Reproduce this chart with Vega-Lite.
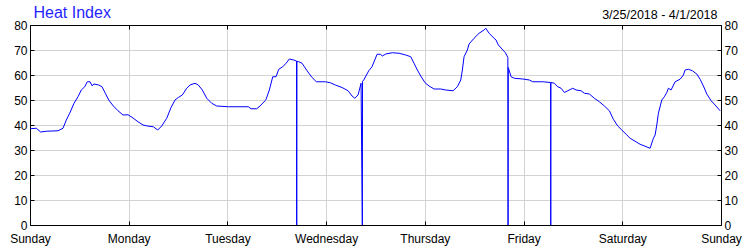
{
  "$schema": "https://vega.github.io/schema/vega-lite/v6.json",
  "width": 691,
  "height": 200,
  "autosize": "none",
  "padding": {"left": 30, "top": 25, "right": 29, "bottom": 25},
  "config": {
    "view": {"stroke": "black", "strokeWidth": 1},
    "font": "Liberation Sans",
    "axis": {
      "labelFont": "Liberation Sans",
      "labelFontSize": 12,
      "labelColor": "black",
      "titleFont": "Liberation Sans",
      "gridColor": "#d3d3d3",
      "gridOpacity": 1,
      "domainColor": "black",
      "tickColor": "black",
      "tickSize": -4
    }
  },
  "data": {
    "values": [
      {"hour": 0.0, "heat_index": 38.5},
      {"hour": 1.53, "heat_index": 38.7},
      {"hour": 2.6, "heat_index": 37.2},
      {"hour": 3.96, "heat_index": 37.5},
      {"hour": 6.81, "heat_index": 37.7},
      {"hour": 8.02, "heat_index": 38.7},
      {"hour": 8.83, "heat_index": 42},
      {"hour": 9.65, "heat_index": 44.7},
      {"hour": 10.7, "heat_index": 48.7},
      {"hour": 11.67, "heat_index": 51.3},
      {"hour": 12.47, "heat_index": 54},
      {"hour": 13.3, "heat_index": 55.3},
      {"hour": 13.93, "heat_index": 57.3},
      {"hour": 14.59, "heat_index": 57.3},
      {"hour": 15.08, "heat_index": 55.7},
      {"hour": 15.56, "heat_index": 56.4},
      {"hour": 16.71, "heat_index": 56},
      {"hour": 17.51, "heat_index": 55.3},
      {"hour": 18.31, "heat_index": 52.7},
      {"hour": 19.14, "heat_index": 50},
      {"hour": 20.26, "heat_index": 47.6},
      {"hour": 21.4, "heat_index": 45.7},
      {"hour": 22.61, "heat_index": 44},
      {"hour": 23.83, "heat_index": 44.1},
      {"hour": 24.8, "heat_index": 43.1},
      {"hour": 26.26, "heat_index": 41.3},
      {"hour": 27.48, "heat_index": 40},
      {"hour": 28.52, "heat_index": 39.6},
      {"hour": 29.98, "heat_index": 39.3},
      {"hour": 31.05, "heat_index": 38},
      {"hour": 32.02, "heat_index": 39.6},
      {"hour": 33.24, "heat_index": 42.7},
      {"hour": 34.29, "heat_index": 47},
      {"hour": 35.26, "heat_index": 50},
      {"hour": 36.06, "heat_index": 51},
      {"hour": 37.03, "heat_index": 52},
      {"hour": 38.1, "heat_index": 54.7},
      {"hour": 38.91, "heat_index": 56},
      {"hour": 40.12, "heat_index": 56.7},
      {"hour": 40.92, "heat_index": 56},
      {"hour": 41.9, "heat_index": 54},
      {"hour": 42.97, "heat_index": 50.7},
      {"hour": 44.18, "heat_index": 48.7},
      {"hour": 45.4, "heat_index": 47.6},
      {"hour": 48.22, "heat_index": 47.3},
      {"hour": 53.08, "heat_index": 47.3},
      {"hour": 53.74, "heat_index": 46.5},
      {"hour": 55.12, "heat_index": 46.5},
      {"hour": 55.93, "heat_index": 47.6},
      {"hour": 57.14, "heat_index": 49.7},
      {"hour": 57.39, "heat_index": 50.3},
      {"hour": 58.19, "heat_index": 54},
      {"hour": 59.02, "heat_index": 59.3},
      {"hour": 59.82, "heat_index": 59.3},
      {"hour": 60.48, "heat_index": 62.3},
      {"hour": 61.45, "heat_index": 63.3},
      {"hour": 62.25, "heat_index": 64.7},
      {"hour": 63.05, "heat_index": 66.4},
      {"hour": 64.12, "heat_index": 66},
      {"hour": 64.8, "heat_index": 65.6},
      {"hour": 64.85, "heat_index": 0},
      {"hour": 64.9, "heat_index": 65.5},
      {"hour": 65.34, "heat_index": 65.3},
      {"hour": 66.14, "heat_index": 64.7},
      {"hour": 67.36, "heat_index": 61.7},
      {"hour": 68.57, "heat_index": 59},
      {"hour": 69.62, "heat_index": 57.3},
      {"hour": 71.81, "heat_index": 57.3},
      {"hour": 73.02, "heat_index": 56.9},
      {"hour": 74.24, "heat_index": 56},
      {"hour": 75.87, "heat_index": 55},
      {"hour": 77.33, "heat_index": 53.7},
      {"hour": 78.3, "heat_index": 51.6},
      {"hour": 78.96, "heat_index": 50.7},
      {"hour": 79.76, "heat_index": 52},
      {"hour": 80.49, "heat_index": 56.7},
      {"hour": 80.8, "heat_index": 0},
      {"hour": 80.85, "heat_index": 57.5},
      {"hour": 81.14, "heat_index": 58},
      {"hour": 82.36, "heat_index": 61.7},
      {"hour": 83.16, "heat_index": 63.3},
      {"hour": 84.38, "heat_index": 68.3},
      {"hour": 85.18, "heat_index": 68.3},
      {"hour": 85.66, "heat_index": 67.6},
      {"hour": 86.49, "heat_index": 68.4},
      {"hour": 88.1, "heat_index": 68.9},
      {"hour": 89.73, "heat_index": 68.7},
      {"hour": 91.36, "heat_index": 68},
      {"hour": 92.57, "heat_index": 67.3},
      {"hour": 93.37, "heat_index": 64.7},
      {"hour": 94.18, "heat_index": 62},
      {"hour": 95.0, "heat_index": 59.6},
      {"hour": 96.05, "heat_index": 56.9},
      {"hour": 97.02, "heat_index": 55.6},
      {"hour": 98.24, "heat_index": 54.4},
      {"hour": 99.87, "heat_index": 54.4},
      {"hour": 101.08, "heat_index": 54},
      {"hour": 102.86, "heat_index": 53.7},
      {"hour": 103.9, "heat_index": 55.3},
      {"hour": 104.73, "heat_index": 58},
      {"hour": 105.12, "heat_index": 62},
      {"hour": 105.53, "heat_index": 67.3},
      {"hour": 106.33, "heat_index": 70},
      {"hour": 106.75, "heat_index": 72.4},
      {"hour": 107.96, "heat_index": 74.7},
      {"hour": 109.18, "heat_index": 76.7},
      {"hour": 110.39, "heat_index": 78},
      {"hour": 110.81, "heat_index": 78.7},
      {"hour": 111.61, "heat_index": 76.7},
      {"hour": 112.83, "heat_index": 74.7},
      {"hour": 113.31, "heat_index": 74},
      {"hour": 113.87, "heat_index": 72},
      {"hour": 115.58, "heat_index": 68.9},
      {"hour": 116.18, "heat_index": 67},
      {"hour": 116.23, "heat_index": 0},
      {"hour": 116.28, "heat_index": 63},
      {"hour": 116.96, "heat_index": 59.3},
      {"hour": 117.76, "heat_index": 58.7},
      {"hour": 119.8, "heat_index": 58.4},
      {"hour": 121.41, "heat_index": 58},
      {"hour": 122.23, "heat_index": 57.3},
      {"hour": 124.67, "heat_index": 57.3},
      {"hour": 126.56, "heat_index": 57},
      {"hour": 126.61, "heat_index": 0},
      {"hour": 126.66, "heat_index": 57},
      {"hour": 127.49, "heat_index": 56.7},
      {"hour": 128.31, "heat_index": 55.3},
      {"hour": 129.12, "heat_index": 54.7},
      {"hour": 129.92, "heat_index": 53},
      {"hour": 130.75, "heat_index": 53.7},
      {"hour": 131.96, "heat_index": 54.7},
      {"hour": 132.77, "heat_index": 54},
      {"hour": 133.98, "heat_index": 53.7},
      {"hour": 134.78, "heat_index": 52.7},
      {"hour": 136.0, "heat_index": 52.4},
      {"hour": 137.21, "heat_index": 50.7},
      {"hour": 138.43, "heat_index": 49.3},
      {"hour": 139.65, "heat_index": 47.6},
      {"hour": 140.86, "heat_index": 45.7},
      {"hour": 141.83, "heat_index": 42.3},
      {"hour": 142.9, "heat_index": 39.6},
      {"hour": 143.88, "heat_index": 38},
      {"hour": 145.9, "heat_index": 34.7},
      {"hour": 148.33, "heat_index": 32.3},
      {"hour": 150.76, "heat_index": 30.7},
      {"hour": 151.56, "heat_index": 34.7},
      {"hour": 151.98, "heat_index": 36},
      {"hour": 152.39, "heat_index": 40},
      {"hour": 152.78, "heat_index": 44.7},
      {"hour": 153.6, "heat_index": 50},
      {"hour": 154.23, "heat_index": 51.3},
      {"hour": 154.82, "heat_index": 53},
      {"hour": 155.21, "heat_index": 54.7},
      {"hour": 155.86, "heat_index": 54},
      {"hour": 156.84, "heat_index": 57.3},
      {"hour": 158.05, "heat_index": 58.3},
      {"hour": 158.86, "heat_index": 60},
      {"hour": 159.27, "heat_index": 62},
      {"hour": 160.07, "heat_index": 62.3},
      {"hour": 161.04, "heat_index": 61.7},
      {"hour": 162.11, "heat_index": 60.4},
      {"hour": 162.92, "heat_index": 58.3},
      {"hour": 163.72, "heat_index": 55.6},
      {"hour": 164.55, "heat_index": 52.4},
      {"hour": 165.6, "heat_index": 49.7},
      {"hour": 166.57, "heat_index": 48},
      {"hour": 167.78, "heat_index": 45.7}
    ]
  },
  "layer": [
    {
      "mark": {"type": "line", "color": "#0000ff", "strokeWidth": 1},
      "encoding": {
        "x": {
          "field": "hour",
          "type": "quantitative",
          "scale": {"domain": [0, 168], "nice": false, "zero": false},
          "axis": {
            "orient": "bottom",
            "values": [0, 24, 48, 72, 96, 120, 144, 168],
            "labelExpr": "['Sunday','Monday','Tuesday','Wednesday','Thursday','Friday','Saturday','Sunday'][round(datum.value / 24)]",
            "labelFlush": false,
            "labelOverlap": false,
            "labelPadding": 12,
            "title": null,
            "grid": true,
            "domain": true
          }
        },
        "y": {
          "field": "heat_index",
          "type": "quantitative",
          "scale": {"domain": [0, 80], "nice": false},
          "axis": {
            "orient": "left",
            "values": [0, 10, 20, 30, 40, 50, 60, 70, 80],
            "labelPadding": 7,
            "title": null,
            "grid": true,
            "domain": true
          }
        }
      }
    },
    {
      "mark": {"type": "line", "strokeOpacity": 0},
      "encoding": {
        "x": {
          "field": "hour",
          "type": "quantitative",
          "scale": {"domain": [0, 168], "nice": false, "zero": false},
          "axis": {
            "orient": "top",
            "values": [0, 24, 48, 72, 96, 120, 144, 168],
            "labels": false,
            "grid": false,
            "domain": true,
            "title": "Heat Index",
            "titleFontSize": 16,
            "titleFontWeight": "normal",
            "titleColor": "#1f1fff",
            "titleAlign": "left",
            "titleAnchor": "start",
            "titleBaseline": "alphabetic",
            "titleX": 3,
            "titleY": -8
          }
        },
        "y": {
          "field": "heat_index",
          "type": "quantitative",
          "scale": {"domain": [0, 80], "nice": false},
          "axis": {
            "orient": "right",
            "values": [0, 10, 20, 30, 40, 50, 60, 70, 80],
            "labelPadding": 7,
            "grid": false,
            "domain": true,
            "title": "3/25/2018 - 4/1/2018",
            "titleAngle": 0,
            "titleFontSize": 12.5,
            "titleFontWeight": "normal",
            "titleColor": "black",
            "titleAlign": "right",
            "titleBaseline": "alphabetic",
            "titleX": -4,
            "titleY": -7
          }
        }
      }
    }
  ],
  "resolve": {"axis": {"x": "independent", "y": "independent"}}
}
